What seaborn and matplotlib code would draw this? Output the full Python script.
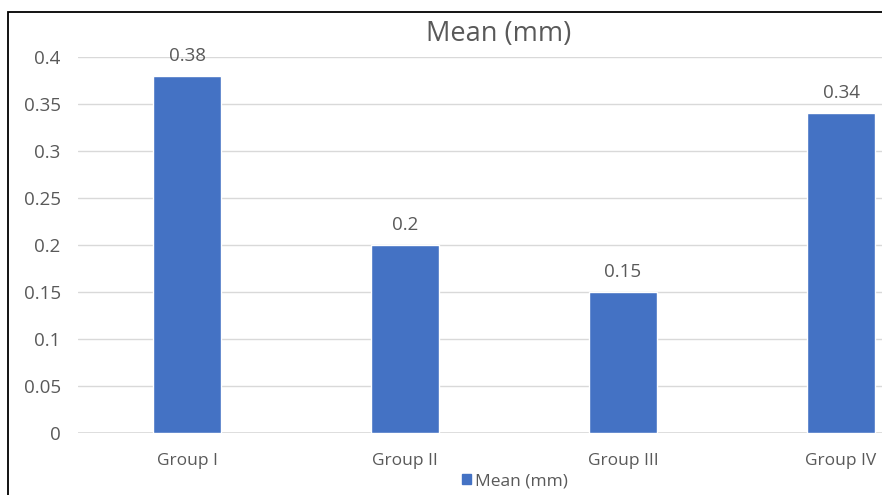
import matplotlib
matplotlib.use("Agg")
import matplotlib.pyplot as plt
from matplotlib.patches import Rectangle, Patch
import seaborn as sns
import pandas as pd

categories = ["Group I", "Group II", "Group III", "Group IV"]
means = [0.38, 0.2, 0.15, 0.34]
series_name = "Mean (mm)"
y_ticks = [0, 0.05, 0.1, 0.15, 0.2, 0.25, 0.3, 0.35, 0.4]

sns.set_theme(style="white")
plt.rcParams["font.family"] = ["Open Sans", "DejaVu Sans"]

TXT = "#595959"
BAR = "#4472C4"
GRID = "#D9D9D9"

df = pd.DataFrame({"group": categories, "mean": means})

fig = plt.figure(figsize=(8.82, 4.95), dpi=100)
W, H = 882, 495
ax = fig.add_axes([78 / W, 1 - 433 / H, 872 / W, (433 - 57) / H])

sns.barplot(data=df, x="group", y="mean", color=BAR, width=0.31,
            saturation=1, ax=ax, zorder=3)

ax.set_ylim(0, 0.4)
ax.set_xlim(-0.5, 3.5)
ax.set_yticks(y_ticks)
ax.set_yticklabels([f"{v:g}" for v in y_ticks])
ax.yaxis.grid(True, color=GRID, linewidth=1, zorder=0)
ax.xaxis.grid(False)
for s in ax.spines.values():
    s.set_visible(False)
ax.axhline(0, color=GRID, linewidth=1.2, zorder=1)
ax.tick_params(axis="both", length=0, colors=TXT)
ax.tick_params(axis="y", pad=12.5, labelsize=13.5)
ax.tick_params(axis="x", pad=14.5, labelsize=12.5)
ax.set_xlabel("")
ax.set_ylabel("")

for i, v in enumerate(means):
    ax.annotate(f"{v:g}", xy=(i, v), xytext=(0, 8), textcoords="offset points",
                ha="center", va="bottom", fontsize=13.5, color=TXT)

fig.text(499 / W, 1 - 41 / H, series_name, ha="center", va="baseline",
         fontsize=19.5, color=TXT)

handle = Patch(facecolor=BAR, edgecolor=BAR)
fig.legend([handle], [series_name], loc="center", bbox_to_anchor=(515 / W, 1 - 481.5 / H),
           frameon=False, fontsize=12.5, labelcolor=TXT, handlelength=0.5,
           handleheight=0.5, handletextpad=0.2, borderpad=0)

fig.patches.append(Rectangle((8 / W, -0.1), 1.2, (H - 12) / H + 0.1,
                             transform=fig.transFigure, fill=False,
                             edgecolor="black", linewidth=1.3, zorder=10))

fig.savefig("out.png", dpi=100)
